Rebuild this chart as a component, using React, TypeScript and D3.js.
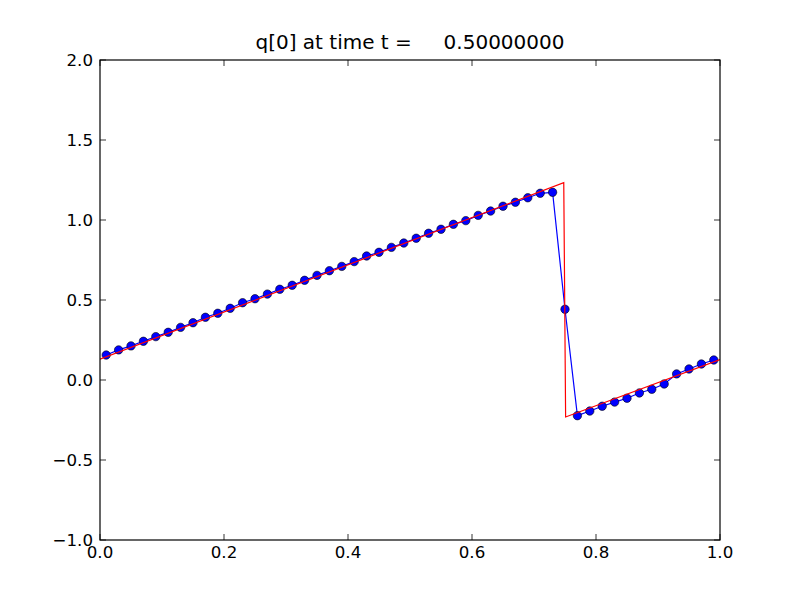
import React, { useEffect, useRef } from "react";
import * as d3 from "d3";

const titleText = "q[0] at time t =     0.50000000";
const xTicks = [0.0, 0.2, 0.4, 0.6, 0.8, 1.0];
const yTicks = [-1.0, -0.5, 0.0, 0.5, 1.0, 1.5, 2.0];

const numX = [
  0.01, 0.03, 0.05, 0.07, 0.09, 0.11, 0.13, 0.15, 0.17, 0.19,
  0.21, 0.23, 0.25, 0.27, 0.29, 0.31, 0.33, 0.35, 0.37, 0.39,
  0.41, 0.43, 0.45, 0.47, 0.49, 0.51, 0.53, 0.55, 0.57, 0.59,
  0.61, 0.63, 0.65, 0.67, 0.69, 0.71, 0.73, 0.75, 0.77, 0.79,
  0.81, 0.83, 0.85, 0.87, 0.89, 0.91, 0.93, 0.95, 0.97, 0.99,
];
const numQ = [
  0.156, 0.188, 0.213, 0.242, 0.271, 0.298, 0.329, 0.358, 0.392, 0.417,
  0.448, 0.483, 0.508, 0.537, 0.567, 0.592, 0.623, 0.654, 0.683, 0.710,
  0.740, 0.775, 0.798, 0.829, 0.856, 0.886, 0.917, 0.942, 0.973, 0.996,
  1.029, 1.056, 1.086, 1.111, 1.139, 1.167, 1.173, 0.442, -0.223, -0.194,
  -0.164, -0.138, -0.114, -0.081, -0.058, -0.025, 0.038, 0.069, 0.100, 0.125,
];
const exactX = [0.0, 0.748, 0.751, 1.0];
const exactQ = [0.13, 1.233, -0.231, 0.127];

export default function App() {
  const ref = useRef<SVGSVGElement>(null);
  useEffect(() => {
    const svg = d3.select(ref.current);
    svg.selectAll("*").remove();
    const W = 800, H = 600;
    const left = 100, right = 720, top = 60, bottom = 540;
    const x = d3.scaleLinear().domain([0, 1]).range([left, right]);
    const y = d3.scaleLinear().domain([-1, 2]).range([bottom, top]);
    const font = "DejaVu Sans, sans-serif";

    svg.append("rect").attr("width", W).attr("height", H).attr("fill", "white");
    svg.append("rect").attr("x", left).attr("y", top).attr("width", right - left).attr("height", bottom - top).attr("fill", "white");

    const clip = svg.append("defs").append("clipPath").attr("id", "clip");
    clip.append("rect").attr("x", left).attr("y", top).attr("width", right - left).attr("height", bottom - top);

    const g = svg.append("g").attr("clip-path", "url(#clip)");
    const pts = numX.map((v, i) => [v, numQ[i]] as [number, number]);
    const line = d3.line<[number, number]>().x(d => x(d[0])).y(d => y(d[1]));
    g.append("path").attr("d", line(pts)!).attr("fill", "none").attr("stroke", "#0000ff").attr("stroke-width", 1.2);
    g.selectAll("circle").data(pts).enter().append("circle")
      .attr("cx", d => x(d[0])).attr("cy", d => y(d[1])).attr("r", 4.2)
      .attr("fill", "#0000ff").attr("stroke", "#000").attr("stroke-width", 0.6);
    const ex = exactX.map((v, i) => [v, exactQ[i]] as [number, number]);
    g.append("path").attr("d", line(ex)!).attr("fill", "none").attr("stroke", "#ff0000").attr("stroke-width", 1.2);

    // frame
    svg.append("rect").attr("x", left).attr("y", top).attr("width", right - left).attr("height", bottom - top)
      .attr("fill", "none").attr("stroke", "#000").attr("stroke-width", 1.2);

    const tl = 6;
    xTicks.forEach(t => {
      const px = x(t);
      svg.append("line").attr("x1", px).attr("x2", px).attr("y1", bottom).attr("y2", bottom - tl).attr("stroke", "#000").attr("stroke-width", 0.8);
      svg.append("line").attr("x1", px).attr("x2", px).attr("y1", top).attr("y2", top + tl).attr("stroke", "#000").attr("stroke-width", 0.8);
      svg.append("text").attr("x", px).attr("y", bottom + 18).attr("text-anchor", "middle")
        .attr("font-family", font).attr("font-size", 16.67).attr("fill", "#000")
        .text(d3.format(".1f")(t).replace("-", "\u2212"));
    });
    yTicks.forEach(t => {
      const py = y(t);
      svg.append("line").attr("x1", left).attr("x2", left + tl).attr("y1", py).attr("y2", py).attr("stroke", "#000").attr("stroke-width", 0.8);
      svg.append("line").attr("x1", right).attr("x2", right - tl).attr("y1", py).attr("y2", py).attr("stroke", "#000").attr("stroke-width", 0.8);
      svg.append("text").attr("x", left - 7).attr("y", py + 6).attr("text-anchor", "end")
        .attr("font-family", font).attr("font-size", 16.67).attr("fill", "#000")
        .text(d3.format(".1f")(t).replace("-", "\u2212"));
    });

    svg.append("text").attr("x", (left + right) / 2).attr("y", 48.5).attr("text-anchor", "middle")
      .attr("font-family", font).attr("font-size", 20).attr("fill", "#000")
      .style("white-space", "pre").attr("xml:space", "preserve")
      .text(titleText);
  }, []);
  return (
    <div style={{ position: "absolute", left: 0, top: 0 }}>
      <svg ref={ref} width={800} height={600} style={{ display: "block" }} />
    </div>
  );
}
